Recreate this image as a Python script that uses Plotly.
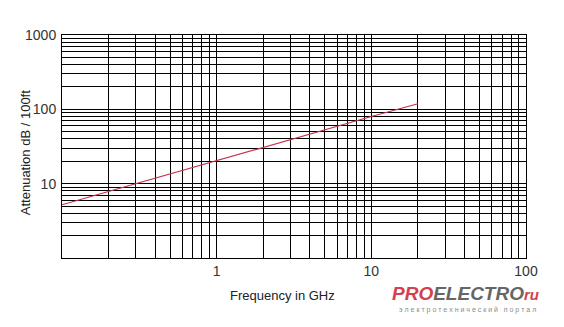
import plotly.graph_objects as go

# Data
freq_ghz = [0.1, 1, 10, 20]
atten_db = [5.2, 20.5, 80, 119]

x_major = [0.1, 1, 10, 100]
x_major_labels = ["", "1", "10", "100"]
y_major = [1, 10, 100, 1000]
y_major_labels = ["", "10", "100", "1000"]

def log_ticks(decades):
    vals = []
    for d in decades:
        for m in range(1, 10):
            vals.append(m * d)
    return vals

xvals = log_ticks([0.1, 1, 10]) + [100]
yvals = log_ticks([1, 10, 100]) + [1000]
xtext = [x_major_labels[x_major.index(v)] if v in x_major else "" for v in xvals]
ytext = [y_major_labels[y_major.index(v)] if v in y_major else "" for v in yvals]

fig = go.Figure()
fig.add_trace(go.Scatter(x=freq_ghz, y=atten_db, mode="lines",
                         line=dict(color="#c8304a", width=1.2),
                         showlegend=False, hoverinfo="skip"))

font = dict(family="Liberation Sans, Arial, sans-serif", size=13, color="#222")
tickfont = dict(family="Liberation Sans, Arial, sans-serif", size=14, color="#333")

fig.update_xaxes(type="log", range=[-1, 2], tickvals=xvals, ticktext=xtext,
                 showgrid=True, gridcolor="black", gridwidth=1,
                 showline=True, linecolor="black", linewidth=1, mirror=True,
                 ticks="", tickfont=tickfont, zeroline=False)
fig.update_yaxes(type="log", range=[0, 3], tickvals=yvals, ticktext=ytext,
                 showgrid=True, gridcolor="black", gridwidth=1,
                 showline=True, linecolor="black", linewidth=1, mirror=True,
                 ticks="", tickfont=tickfont, zeroline=False,
                 ticklabelstandoff=2)

fig.update_layout(
    width=564, height=327,
    margin=dict(l=62, r=38, t=35, b=69),
    paper_bgcolor="white", plot_bgcolor="white",
    font=font,
    annotations=[
        dict(text="Frequency in GHz", xref="paper", yref="paper",
             x=0.475, y=0, yshift=-37, showarrow=False, yanchor="middle",
             font=font),
        dict(text="Attenuation dB / 100ft", xref="paper", yref="paper",
             x=0, xshift=-37, y=0.47, textangle=-90, showarrow=False,
             xanchor="center", yanchor="middle", font=font),
        dict(text="<b><i><span style='color:#d4404e'>PRO</span><span style='color:#666666'>ELECTRO</span><span style='color:#d4404e;font-size:15px'>ru</span></i></b>",
             xref="paper", yref="paper", x=1, xshift=15, y=0, yshift=-35,
             xanchor="right", yanchor="middle", showarrow=False,
             font=dict(family="Liberation Sans, sans-serif", size=19)),
        dict(text="э л е к т р о т е х н и ч е с к и й   п о р т а л",
             xref="paper", yref="paper", x=1, xshift=12, y=0, yshift=-52,
             xanchor="right", yanchor="middle", showarrow=False,
             font=dict(family="Liberation Sans, Arial, sans-serif", size=7, color="#8a8a8a")),
    ],
)

fig.write_html("out.html")
